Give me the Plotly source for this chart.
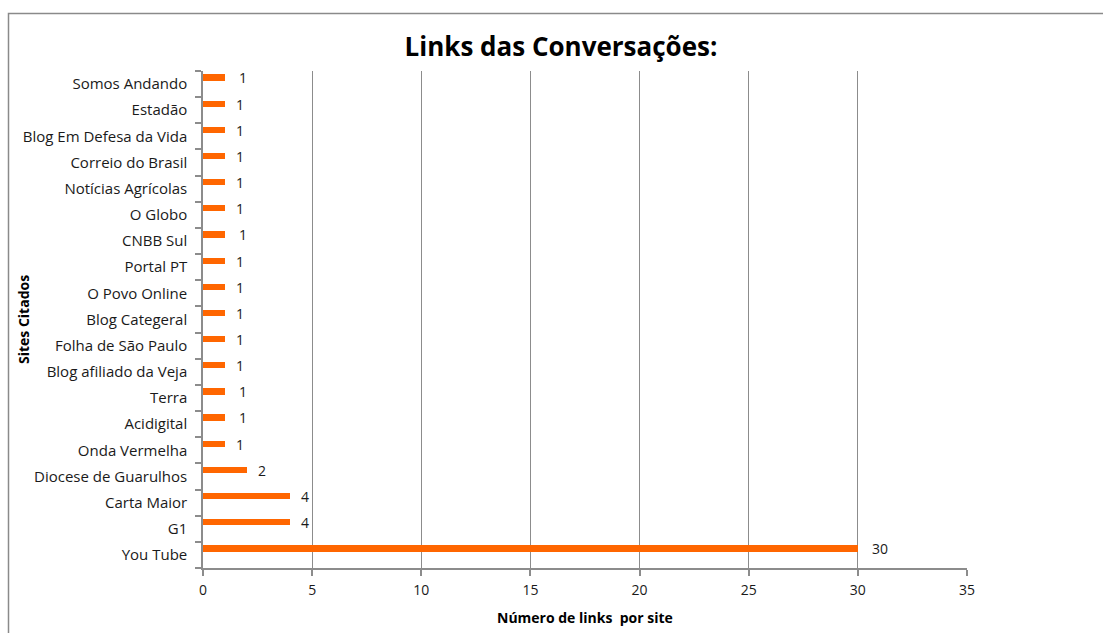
import plotly.graph_objects as go

sites = ["You Tube", "G1", "Carta Maior", "Diocese de Guarulhos", "Onda Vermelha",
         "Acidigital", "Terra", "Blog afiliado da Veja", "Folha de São Paulo",
         "Blog Categeral", "O Povo Online", "Portal PT", "CNBB Sul", "O Globo",
         "Notícias Agrícolas", "Correio do Brasil", "Blog Em Defesa da Vida",
         "Estadão", "Somos Andando"]
links = [30, 4, 4, 2, 1, 1, 1, 1, 1, 1, 1, 1, 1, 1, 1, 1, 1, 1, 1]

title = "Links das Conversações:"
x_title = "Número de links  por site"
y_title = "Sites Citados"

W, H = 1103, 633
L, R, T, B = 203, 967, 71, 568
FONT = "Open Sans, Lato, sans-serif"
GREY = "#8c8c8c"
TXT = "#1a1a1a"

fig = go.Figure()
fig.add_trace(go.Bar(
    y=sites, x=links, orientation="h",
    marker=dict(color="#FF6600", line=dict(width=0)),
    width=0.24, offset=0.13,
    text=links, texttemplate="   %{x}", textposition="outside",
    constraintext="none",
    textfont=dict(family=FONT, size=14, color=TXT),
    cliponaxis=False,
))

fig.update_layout(
    width=W, height=H,
    margin=dict(l=L, r=W - R, t=T, b=H - B, pad=0),
    paper_bgcolor="white", plot_bgcolor="white",
    showlegend=False,
    font=dict(family=FONT, size=14, color=TXT),
    title=dict(text="<b>" + title + "</b>", x=561 / W, xref="container", xanchor="center",
               y=1 - 47 / H, yref="container", yanchor="middle",
               font=dict(family=FONT, size=26, color="#000000")),
    bargap=0,
)
fig.update_xaxes(
    range=[0, 35], dtick=5, tick0=0,
    showgrid=True, gridcolor=GREY, gridwidth=1,
    showline=True, linecolor=GREY, linewidth=1.5,
    ticks="outside", ticklen=6, tickcolor=GREY, tickwidth=1.5,
    tickfont=dict(family=FONT, size=14, color=TXT),
    ticklabelstandoff=2,
    zeroline=False, fixedrange=True,
)
fig.update_yaxes(
    type="category", categoryorder="array", categoryarray=sites,
    range=[-0.5, len(sites) - 0.5],
    showgrid=False, showline=True, linecolor=GREY, linewidth=1.5,
    ticks="outside", ticklen=6, tickcolor=GREY, tickwidth=1.5, tickson="boundaries",
    tickfont=dict(family=FONT, size=15, color=TXT),
    ticklabelstandoff=11,
)

pw, ph = R - L, B - T
fig.add_annotation(text="<b>" + x_title + "</b>", xref="paper", yref="paper",
                   x=(585 - L) / pw, y=(B - 617) / ph, showarrow=False,
                   font=dict(family=FONT, size=14, color="#000000"),
                   xanchor="center", yanchor="middle")
fig.add_annotation(text="<b>" + y_title + "</b>", xref="paper", yref="paper",
                   x=(23 - L) / pw, y=(B - 320) / ph, showarrow=False, textangle=-90,
                   font=dict(family=FONT, size=14, color="#000000"),
                   xanchor="center", yanchor="middle")
# outer chart border
fig.add_shape(type="rect", xref="paper", yref="paper",
              x0=(8.5 - L) / pw, x1=(1120 - L) / pw,
              y0=(B - 650) / ph, y1=(B - 13.5) / ph,
              line=dict(color="#8a8a8a", width=1.5), fillcolor="rgba(0,0,0,0)", layer="below")

fig.write_html("out.html")
